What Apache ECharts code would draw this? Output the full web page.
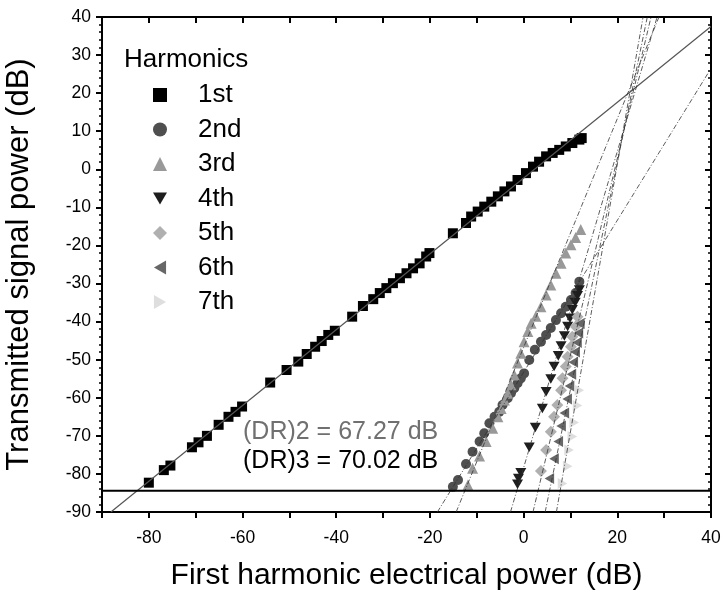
<!DOCTYPE html>
<html><head><meta charset="utf-8">
<script src="https://cdn.jsdelivr.net/npm/echarts@6/dist/echarts.min.js"></script>
<style>html,body{margin:0;padding:0;background:#fff}#c{width:724px;height:599px}</style>
</head><body><div id="c"></div>
<script>
// ---- data ----
const harmonicNames = ['1st','2nd','3rd','4th','5th','6th','7th'];
const xTickLabels = [-80,-60,-40,-20,0,20,40];
const yTickLabels = [-90,-80,-70,-60,-50,-40,-30,-20,-10,0,10,20,30,40];

const h1x = [-80.0,-76.8,-75.4,-70.8,-69.4,-67.6,-65.1,-63.0,-61.5,-60.1,-54.1,-50.6,-48.1,-46.3,-44.5,-43.1,-41.7,-40.3,-36.6,-34.3,-32.1,-30.7,-29.3,-27.9,-26.4,-25.0,-23.6,-22.2,-20.8,-20.1,-15.1,-12.3,-11.2,-9.8,-8.4,-6.9,-5.5,-4.1,-2.7,-1.3,0.5,2.0,3.3,4.8,6.2,7.6,9.0,10.4,11.9,12.4];
const h1y = [-82.3,-79.0,-77.8,-73.0,-71.7,-70.0,-67.1,-65.0,-63.7,-62.3,-56.0,-52.7,-50.5,-48.5,-46.6,-45.1,-43.5,-42.4,-38.7,-35.9,-34.1,-32.5,-31.2,-29.9,-28.6,-27.3,-26.0,-24.7,-22.9,-22.0,-16.8,-14.1,-12.4,-11.1,-9.8,-8.5,-7.1,-5.8,-4.5,-2.8,-1.0,0.7,2.0,3.4,4.3,5.1,6.0,6.9,7.8,8.2];

const h2x = [-15.1,-14.0,-12.3,-10.9,-9.4,-8.4,-7.3,-6.2,-5.2,-4.5,-3.4,-2.7,-2.0,-1.3,-0.6,0.1,1.2,2.4,3.7,4.8,5.8,6.9,8.0,9.0,10.1,11.1,11.9];
const h2y = [-83.4,-81.6,-77.4,-74.2,-71.5,-69.3,-66.7,-65.0,-63.7,-61.9,-60.1,-58.8,-57.5,-56.2,-54.9,-53.6,-50.1,-47.4,-45.3,-43.5,-41.7,-39.6,-37.8,-36.1,-34.3,-32.5,-29.5];

const h3x = [-11.9,-10.9,-9.4,-8.0,-6.6,-5.5,-4.8,-4.1,-3.4,-2.7,-2.0,-1.3,-0.6,0.1,0.9,1.6,2.6,3.7,4.8,5.8,6.9,8.0,9.0,10.1,11.1,12.2];
const h3y = [-82.9,-78.5,-75.3,-71.5,-68.0,-65.0,-62.8,-60.6,-58.8,-56.6,-54.0,-50.9,-48.3,-45.3,-42.6,-40.4,-38.6,-36.1,-33.0,-30.4,-27.3,-24.7,-22.0,-19.8,-17.9,-15.8];

const h4x = [-1.3,-1.1,-0.6,1.2,2.5,4.0,4.8,5.8,6.5,7.4,8.0,8.7,9.4,9.9,10.4,11.0,11.5,11.9];
const h4y = [-82.7,-81.2,-79.7,-73.0,-67.8,-62.8,-58.4,-55.1,-51.8,-49.0,-46.4,-43.8,-41.3,-39.1,-36.9,-35.0,-33.2,-31.7];

const h5x = [3.7,4.8,5.8,6.5,7.2,8.0,8.3,9.0,9.4,10.1,10.4,11.1,11.5];
const h5y = [-79.2,-73.7,-68.9,-65.0,-61.9,-58.0,-54.9,-51.8,-49.2,-46.6,-44.0,-41.3,-38.7];

const h6x = [5.5,6.5,7.4,8.0,8.7,9.3,9.8,10.2,10.6,11.0,11.4,11.7,12.0];
const h6y = [-81.2,-76.0,-71.5,-67.4,-64.0,-60.3,-56.9,-53.8,-50.7,-48.0,-45.5,-43.0,-40.5];

const h7x = [8.3,9.4,9.7,10.4,10.8,11.5,11.9];
const h7y = [-82.5,-78.0,-73.7,-70.2,-66.5,-62.0,-58.0];

// fitted lines (endpoints)
const fit1x = [-88.1, 40];  const fit1y = [-90, 37.5];
const fit2x = [-18.4, 39.6]; const fit2y = [-90, 25.7];
const fit3x = [-14.4, 28.9]; const fit3y = [-90, 40];
const fit4x = [-2.8, 28.5];  const fit4y = [-90, 40];
const fit5x = [2.0, 27.2];   const fit5y = [-90, 40];
const fit6x = [4.6, 26.4];   const fit6y = [-90, 40];
const fit7x = [7.0, 25.5];   const fit7y = [-90, 40];
const noiseFloor = -84.4;

const drTexts = ['(DR)2 = 67.27 dB', '(DR)3 = 70.02 dB'];

// ---- build ----
const FONT = '"Liberation Sans", Arial, Helvetica, sans-serif';
const zip = (a,b) => a.map((v,i)=>[v,b[i]]);
const hx = [h1x,h2x,h3x,h4x,h5x,h6x,h7x];
const hy = [h1y,h2y,h3y,h4y,h5y,h6y,h7y];
const colors = ['#000000','#4f4f4f','#999999','#1e1e1e','#b0b0b0','#676767','#dedede'];
const symbols = ['rect','circle','triangle',
  'path://M0,0L10,0L5,8.66Z','diamond',
  'path://M0,5L8.66,0L8.66,10Z','path://M0,0L8.66,5L0,10Z'];
const sizes = [10,10,11,11,12,11,11];

const series = [];
for (let i=0;i<7;i++){
  series.push({type:'scatter', name:harmonicNames[i], data:zip(hx[i],hy[i]),
    symbol:symbols[i], symbolSize:sizes[i], symbolKeepAspect:true,
    itemStyle:{color:colors[i], opacity:1}, z:2, silent:true});
}
series.push({type:'line', data:zip(fit1x,fit1y), symbol:'none', silent:true, z:4,
  lineStyle:{color:'#555', width:1.2}});
const fits = [[fit2x,fit2y],[fit3x,fit3y],[fit4x,fit4y],[fit5x,fit5y],[fit6x,fit6y],[fit7x,fit7y]];
fits.forEach(f=>series.push({type:'line', data:zip(f[0],f[1]), symbol:'none', silent:true, z:4,
  lineStyle:{color:'#333', width:0.8, type:[5,2,1,2]}}));
series.push({type:'line', data:[[-90,noiseFloor],[40,noiseFloor]], symbol:'none', silent:true, z:5,
  lineStyle:{color:'#000', width:2}});

const axLine = {show:true, onZero:false, lineStyle:{color:'#000', width:2}};
const option = {
  animation:false,
  backgroundColor:'#fff',
  grid:{left:102, right:13, top:17, bottom:87, containLabel:false, outerBoundsMode:'none'},
  title:{text:'Harmonics', left:124, top:47, padding:0,
    textStyle:{fontSize:26, fontWeight:'normal', color:'#000', fontFamily:FONT}},
  legend:{data:harmonicNames, orient:'vertical', left:153, top:82, itemWidth:14, itemHeight:14,
    itemGap:8.5, selectedMode:false, padding:0,
    textStyle:{fontSize:26, color:'#000', fontFamily:FONT, padding:[0,0,0,26]}},
  xAxis:[
    {type:'value', position:'bottom', min:-90, max:40, interval:10,
     axisLine:axLine, splitLine:{show:false},
     axisTick:{show:true, length:6, lineStyle:{color:'#000', width:2}},
     axisLabel:{margin:17, fontSize:17.5, color:'#000', fontFamily:FONT,
       formatter:v=> xTickLabels.includes(v) ? String(v) : ''},
     name:'First harmonic electrical power (dB)', nameLocation:'middle', nameGap:49,
     nameTextStyle:{fontSize:30, color:'#000', fontFamily:FONT}},
    {type:'value', position:'top', min:-90, max:40, interval:10,
     axisLine:axLine, splitLine:{show:false},
     axisTick:{show:true, inside:true, length:6, lineStyle:{color:'#000', width:2}},
     axisLabel:{show:false}}
  ],
  yAxis:[
    {type:'value', position:'left', min:-90, max:40, interval:10,
     axisLine:axLine, splitLine:{show:false},
     axisTick:{show:true, length:6, lineStyle:{color:'#000', width:2}},
     minorTick:{show:true, splitNumber:5, length:3, lineStyle:{color:'#000', width:1.5}},
     axisLabel:{margin:11, fontSize:17.5, color:'#000', fontFamily:FONT,
       formatter:v=> yTickLabels.includes(v) ? String(v) : ''},
     name:'Transmitted signal power (dB)', nameLocation:'middle', nameGap:67,
     nameTextStyle:{fontSize:31, color:'#000', fontFamily:FONT}},
    {type:'value', position:'right', min:-90, max:40, interval:10,
     axisLine:axLine, splitLine:{show:false},
     axisTick:{show:true, inside:true, length:6, lineStyle:{color:'#000', width:2}},
     minorTick:{show:true, splitNumber:5, length:3, lineStyle:{color:'#000', width:1.5}},
     axisLabel:{show:false}}
  ],
  graphic:[
    {type:'text', left:243, top:420, silent:true,
     style:{text:drTexts[0], fontSize:25, fontFamily:FONT, fill:'#707070'}},
    {type:'text', left:243, top:449, silent:true,
     style:{text:drTexts[1], fontSize:25, fontFamily:FONT, fill:'#000'}}
  ],
  series
};
const chart = echarts.init(document.getElementById('c'), null, {renderer:'canvas'});
chart.setOption(option);
</script></body></html>
